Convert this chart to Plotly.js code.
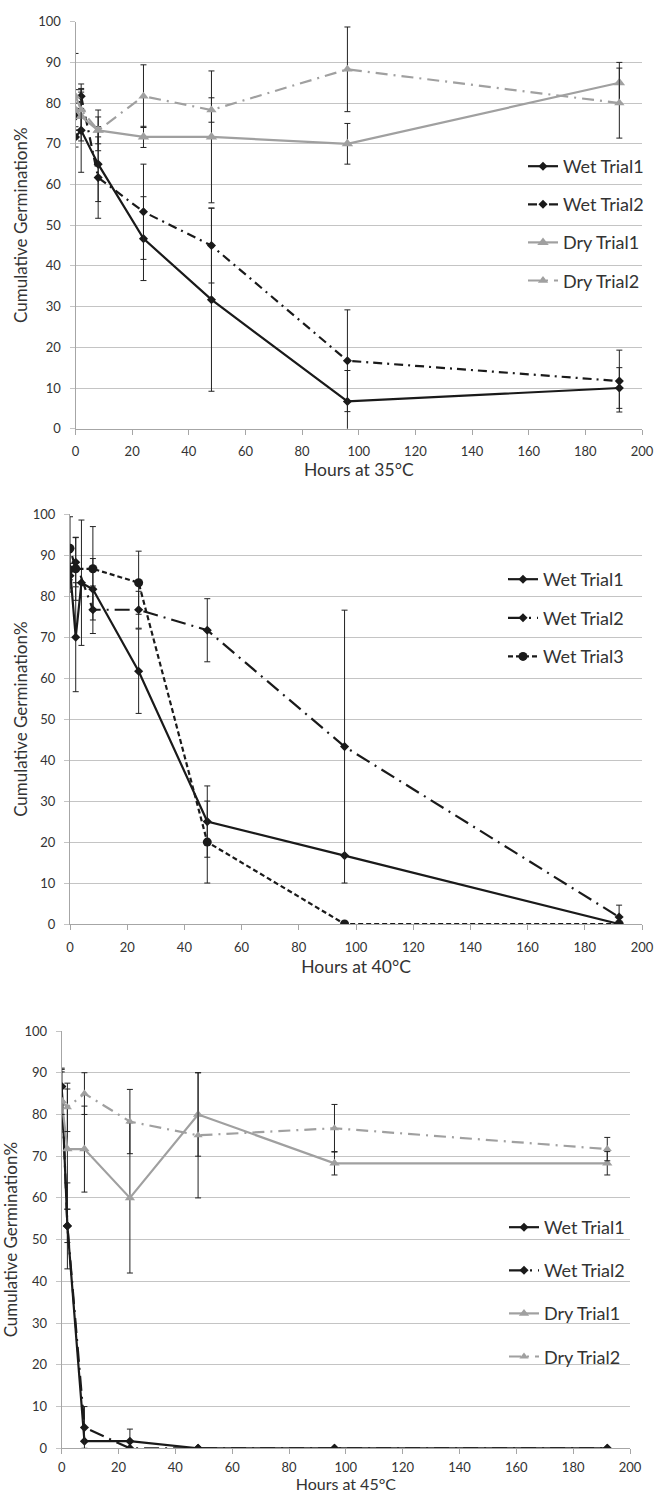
<!DOCTYPE html>
<html><head><meta charset="utf-8">
<script src="https://cdn.plot.ly/plotly-3.0.1.min.js"></script>
<style>html,body{margin:0;padding:0;background:#fff}#chart{width:657px;height:1493px}</style>
</head><body><div id="chart"></div>
<script>
// ---------- 35°C ----------
const hours35 = [0, 2, 8, 24, 48, 96, 192];
const wet1_35 = [71.7, 73.3, 65, 46.7, 31.7, 6.7, 10];
const wet1_35_err = [2.5, 10.3, 9.2, 10.3, 22.5, 7.6, 5];
const wet2_35 = [76.7, 81.7, 61.7, 53.3, 45, 16.7, 11.7];
const wet2_35_err = [3.3, 3, 10, 11.7, 9.2, 12.5, 7.6];
const dry1_35 = [78.3, 76.7, 73.3, 71.7, 71.7, 70, 85];
const dry1_35_err = [5, 6, 5, 2.6, 16.2, 5, 5];
const dry2_35 = [81.7, 78.3, 73.3, 81.7, 78.3, 88.3, 80];
const dry2_35_err = [10.5, 5, 3.3, 7.7, 3, 10.4, 8.6];

// ---------- 40°C ----------
const hours40_wet1 = [0, 2, 4, 8, 24, 48, 96, 192];
const wet1_40 = [86.7, 70, 83.3, 81.7, 61.7, 25, 16.7, 0];
const wet1_40_err = [5.7, 13.3, 15.3, 7.5, 10.3, 8.7, 0, 0];
const hours40 = [0, 2, 8, 24, 48, 96, 192];
const wet2_40 = [85, 88.3, 76.7, 76.7, 71.7, 43.3, 1.7];
const wet2_40_err = [3, 6, 5.8, 4.5, 7.7, 33.3, 2.9];
const wet3_40 = [91.7, 86.7, 86.7, 83.3, 20, 0, 0];
const wet3_40_err = [7.7, 7.7, 10.3, 7.7, 10, 0, 0];

// ---------- 45°C ----------
const hours45 = [0, 2, 8, 24, 48, 96, 192];
const wet1_45 = [86.7, 53.3, 1.7, 1.7, 0, 0, 0];
const wet1_45_err = [4.4, 10.3, 0, 2.9, 0, 0, 0];
const wet2_45 = [86.7, 53.3, 5, 0, 0, 0, 0];
const wet2_45_err = [3.5, 4, 5, 0, 0, 0, 0];
const dry1_45 = [83.3, 71.7, 71.7, 60, 80, 68.3, 68.3];
const dry1_45_err = [7.5, 14.4, 10.3, 18, 10, 2.8, 2.8];
const dry2_45 = [83.3, 81.7, 85, 78.3, 75, 76.7, 71.7];
const dry2_45_err = [3.3, 5.8, 5, 7.7, 15, 5.7, 2.8];

const names = ['Wet Trial1', 'Wet Trial2', 'Wet Trial3', 'Dry Trial1', 'Dry Trial2'];
const xTitles = ['Hours at 35°C', 'Hours at 40°C', 'Hours at 45°C'];
const yTitle = 'Cumulative Germination%';

const BLACK = '#1a1a1a', GRAY = '#a0a0a0', ERR = '#222222';
const FONT = 'Lato, "Open Sans", sans-serif';

function tr(x, y, err, name, style, idx) {
  const ax = idx === 1 ? '' : String(idx);
  return {
    type: 'scatter', mode: 'lines+markers', x: x, y: y, name: name,
    xaxis: 'x' + ax, yaxis: 'y' + ax,
    legend: idx === 1 ? 'legend' : 'legend' + idx,
    legendgroup: name + idx,
    line: {color: style.color, width: style.width || 2.2, dash: style.dash || 'solid'},
    marker: {color: style.color, symbol: style.symbol, size: style.size},
    error_y: {type: 'data', array: err, visible: true, color: style.ecolor || ERR, thickness: 1, width: 3},
    hoverinfo: 'skip'
  };
}

const sWet1 = {color: BLACK, symbol: 'diamond', size: 7};
const sWet2 = {color: BLACK, symbol: 'diamond', size: 7, dash: '9px,5px,2px,5px'};
const sWet2b = {color: BLACK, symbol: 'diamond', size: 7, dash: '15px,6px,2px,6px'};
const sWet3 = {color: BLACK, symbol: 'circle', size: 9, dash: '5px,3px'};
const sDry1 = {color: GRAY, symbol: 'triangle-up', size: 10};
const sDry2 = {color: GRAY, symbol: 'triangle-up', size: 9, dash: '12px,6px,2px,6px'};

const data = [
  tr(hours35, wet1_35, wet1_35_err, names[0], sWet1, 1),
  tr(hours35, wet2_35, wet2_35_err, names[1], sWet2, 1),
  tr(hours35, dry1_35, dry1_35_err, names[3], sDry1, 1),
  tr(hours35, dry2_35, dry2_35_err, names[4], sDry2, 1),
  tr(hours40_wet1, wet1_40, wet1_40_err, names[0], sWet1, 2),
  tr(hours40, wet2_40, wet2_40_err, names[1], sWet2b, 2),
  tr(hours40, wet3_40, wet3_40_err, names[2], sWet3, 2),
  tr(hours45, wet1_45, wet1_45_err, names[0], sWet1, 3),
  tr(hours45, wet2_45, wet2_45_err, names[1], sWet2b, 3),
  tr(hours45, dry1_45, dry1_45_err, names[3], Object.assign({}, sDry1, {size: 9}), 3),
  tr(hours45, dry2_45, dry2_45_err, names[4], Object.assign({}, sDry2, {size: 8}), 3)
];

const W = 657, H = 1493;
function xd(l, r) { return [l / W, r / W]; }
function yd(top, bottom) { return [1 - bottom / H, 1 - top / H]; }

function xax(dom, anchor, title, standoff, lblOff, tsize) {
  return {
    domain: dom, anchor: anchor, range: [0, 200], dtick: 20, tick0: 0,
    showgrid: false, zeroline: false, showline: true, linecolor: '#a6a6a6', linewidth: 1,
    ticks: 'outside', ticklen: 5, tickcolor: '#a6a6a6', ticklabelstandoff: lblOff,
    tickfont: {family: FONT, size: 13, color: '#333'},
    title: {text: title, font: {family: FONT, size: tsize, color: '#333'}, standoff: standoff},
    fixedrange: true
  };
}
function yax(dom, anchor, standoff) {
  return {
    domain: dom, anchor: anchor, range: [0, 100], dtick: 10, tick0: 0,
    showgrid: true, gridcolor: '#c4c4c4', gridwidth: 1, zeroline: false,
    showline: true, linecolor: '#a6a6a6', linewidth: 1,
    ticks: 'outside', ticklen: 5, tickcolor: '#c4c4c4', ticklabelstandoff: 6,
    tickfont: {family: FONT, size: 13, color: '#333'},
    title: {text: yTitle, font: {family: FONT, size: 17, color: '#333'}, standoff: standoff},
    fixedrange: true
  };
}
function leg(leftPx, topPx, gap) {
  return {
    x: leftPx / W, y: 1 - topPx / H, xanchor: 'left', yanchor: 'top',
    bgcolor: 'rgba(0,0,0,0)', borderwidth: 0,
    font: {family: FONT, size: 18, color: '#333'},
    traceorder: 'grouped', tracegroupgap: gap, itemclick: false, itemdoubleclick: false
  };
}

const layout = {
  width: W, height: H,
  margin: {l: 0, r: 0, t: 0, b: 0},
  paper_bgcolor: '#fff', plot_bgcolor: '#fff',
  showlegend: true,
  xaxis: xax(xd(75.5, 642), 'y', xTitles[0], 4, 6, 17.5),
  yaxis: yax(yd(21.7, 428.7), 'x', 6),
  xaxis2: xax(xd(70, 642), 'y2', xTitles[1], 7, 6, 17.5),
  yaxis2: yax(yd(514.3, 924), 'x2', 0),
  xaxis3: xax(xd(61.7, 630), 'y3', xTitles[2], 1, 2, 16),
  yaxis3: yax(yd(1031, 1448.3), 'x3', 8),
  legend: leg(523, 148, 11.7),
  legend2: leg(503, 561, 12.2),
  legend3: leg(504, 1209, 16.7)
};

Plotly.newPlot('chart', data, layout, {staticPlot: true, displayModeBar: false});
</script>
</body></html>
